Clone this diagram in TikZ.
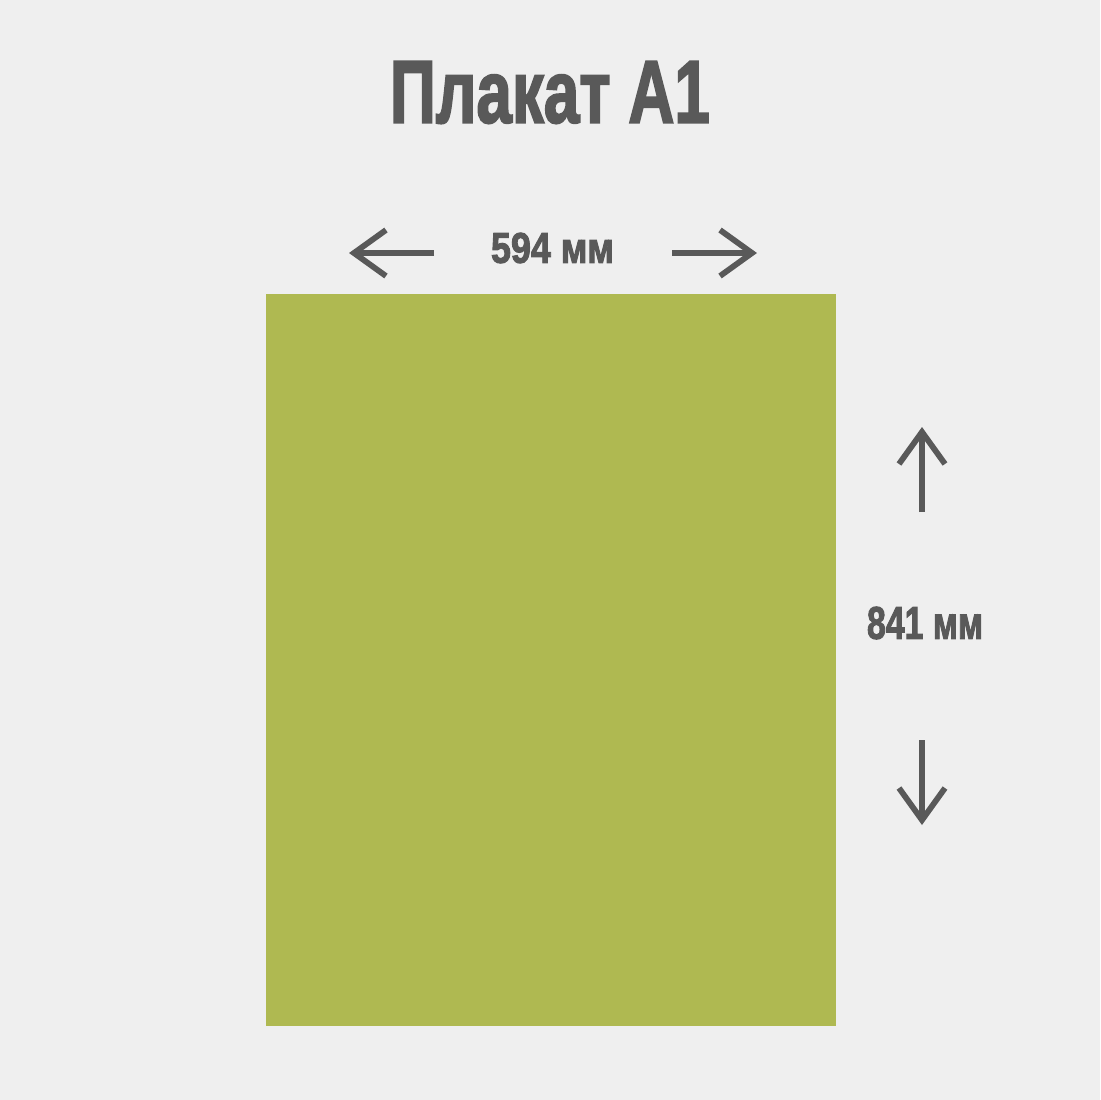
\documentclass[tikz,border=0pt]{standalone}
\usepackage{fontspec}
\setmainfont{Liberation Sans}[BoldFeatures={FakeBold=2.5}]
\usetikzlibrary{arrows.meta}
\definecolor{bg}{HTML}{EFEFEF}
\definecolor{ink}{HTML}{595959}
\definecolor{leaf}{HTML}{AFB951}
\tikzset{
  lbl/.style={inner sep=0pt, outer sep=0pt, text=ink, anchor=center},
  dimarrow/.style={draw=ink, line width=2.9pt, -{Straight Barb[length=16pt, width=23pt, line width=2.9pt]}},
}
\begin{document}
\begin{tikzpicture}[x=0.5pt, y=-0.5pt]
\fill[bg] (0,0) rectangle (1100,1100);
\useasboundingbox (0,0) rectangle (1100,1100);
\node[lbl] (title) at (550,92.5) {\resizebox{160pt}{30.5pt}{\bfseries Плакат A1}};
\fill[leaf] (266,294) rectangle (836,1026);
\node[lbl] (w) at (552.5,248) {\resizebox{61.5pt}{15pt}{\bfseries 594 мм}};
\node[lbl] (h) at (925,623) {\resizebox{58pt}{16pt}{\bfseries 841 мм}};
\coordinate (wl0) at (434,253);
\coordinate (wl1) at (349,253);
\coordinate (wr0) at (672,253);
\coordinate (wr1) at (757,253);
\coordinate (hu0) at (922,512);
\coordinate (hu1) at (922,427);
\coordinate (hd0) at (922,740);
\coordinate (hd1) at (922,825);
\draw[dimarrow] (wl0) -- (wl1);
\draw[dimarrow] (wr0) -- (wr1);
\draw[dimarrow] (hu0) -- (hu1);
\draw[dimarrow] (hd0) -- (hd1);
\end{tikzpicture}
\end{document}
